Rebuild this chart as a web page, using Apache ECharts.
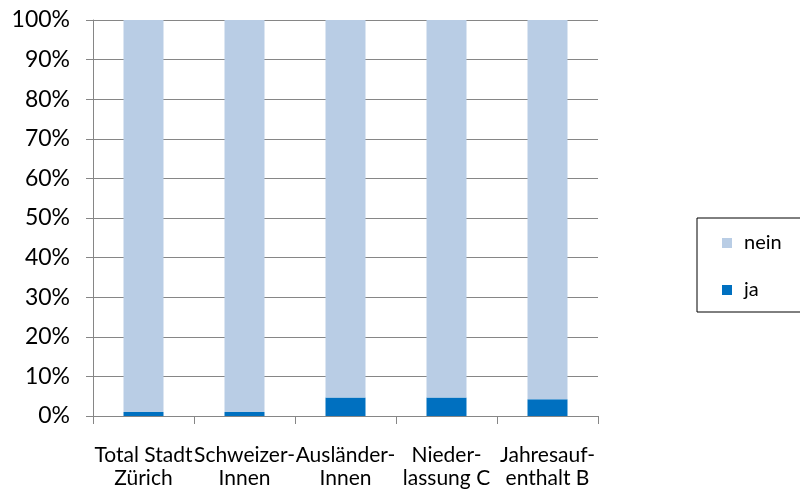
<!DOCTYPE html>
<html>
<head>
<meta charset="utf-8">
<script src="https://cdn.jsdelivr.net/npm/echarts@6/dist/echarts.min.js"></script>
<style>
  html, body { margin: 0; padding: 0; background: #fff; }
  #chart { width: 800px; height: 490px; }
</style>
</head>
<body>
<div id="chart"></div>
<script>
// Anteile in Prozent je Bevölkerungsgruppe
const categories = ['Total Stadt\nZürich', 'Schweizer-\nInnen', 'Ausländer-\nInnen', 'Nieder-\nlassung C', 'Jahresauf-\nenthalt B'];
const ja = [1.0, 1.0, 4.7, 4.7, 4.2];
const nein = [99.0, 99.0, 95.3, 95.3, 95.8];
const yTicks = [0, 10, 20, 30, 40, 50, 60, 70, 80, 90, 100];

const font = 'Lato, "Liberation Sans", sans-serif';
const gray = '#868686';

const chart = echarts.init(document.getElementById('chart'), null, { renderer: 'canvas' });
chart.setOption({
  animation: false,
  textStyle: { fontFamily: font },
  grid: { left: 93, right: 202, top: 20, bottom: 74, containLabel: false },
  legend: {
    orient: 'vertical',
    left: 697,
    top: 218,
    padding: [15, 20, 12, 25],
    itemGap: 27,
    itemWidth: 10,
    itemHeight: 10,
    borderColor: '#000',
    borderWidth: 1,
    icon: 'rect',
    textStyle: { fontFamily: font, fontSize: 20, color: '#000', padding: [0, 0, 0, 7] },
    data: ['nein', 'ja']
  },
  xAxis: {
    type: 'category',
    data: categories,
    axisLine: { lineStyle: { color: gray, width: 1 } },
    axisTick: { show: true, alignWithLabel: false, length: 8, lineStyle: { color: gray } },
    axisLabel: { fontFamily: font, fontSize: 21, color: '#000', margin: 28, lineHeight: 23, interval: 0 }
  },
  yAxis: {
    type: 'value',
    min: yTicks[0],
    max: yTicks[yTicks.length - 1],
    interval: 10,
    axisLine: { show: true, lineStyle: { color: gray, width: 1 } },
    axisTick: { show: true, length: 7, lineStyle: { color: gray } },
    splitLine: { show: true, lineStyle: { color: gray, width: 1 } },
    axisLabel: { fontFamily: font, fontSize: 23, color: '#000', margin: 23, formatter: '{value}%' }
  },
  series: [
    { name: 'ja', type: 'bar', stack: 'total', data: ja, barWidth: '39.6%', itemStyle: { color: '#0070C0' } },
    { name: 'nein', type: 'bar', stack: 'total', data: nein, barWidth: '39.6%', itemStyle: { color: '#B9CDE5' } }
  ]
});
</script>
</body>
</html>
